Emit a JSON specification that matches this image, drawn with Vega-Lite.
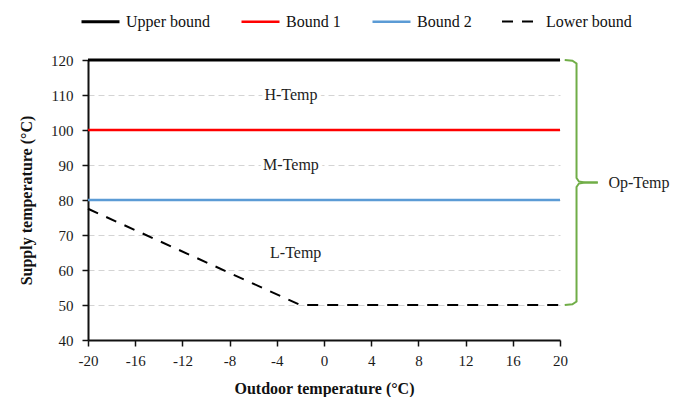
{
  "$schema": "https://vega.github.io/schema/vega-lite/v6.json",
  "autosize": {"type": "none"},
  "padding": {"left": 88, "top": 60, "right": 116, "bottom": 57},
  "width": 472,
  "height": 280,
  "background": "white",
  "config": {
    "view": {"stroke": null},
    "font": "Liberation Serif",
    "axis": {
      "labelFont": "Liberation Serif",
      "labelFontSize": 15,
      "labelColor": "#1a1a1a",
      "titleFont": "Liberation Serif",
      "titleFontSize": 16,
      "titleFontWeight": "bold",
      "titleColor": "#111",
      "domainColor": "#111",
      "domainWidth": 2,
      "tickColor": "#111",
      "tickWidth": 1.5,
      "tickSize": 6
    }
  },
  "datasets": {
    "bounds": [
      {"t_out": -20, "t_sup": 120, "series": "Upper bound"},
      {"t_out": 20, "t_sup": 120, "series": "Upper bound"},
      {"t_out": -20, "t_sup": 100, "series": "Bound 1"},
      {"t_out": 20, "t_sup": 100, "series": "Bound 1"},
      {"t_out": -20, "t_sup": 80, "series": "Bound 2"},
      {"t_out": 20, "t_sup": 80, "series": "Bound 2"},
      {"t_out": -20, "t_sup": 77.5, "series": "Lower bound"},
      {"t_out": -2, "t_sup": 50, "series": "Lower bound"},
      {"t_out": 20, "t_sup": 50, "series": "Lower bound"}
    ],
    "brace": [
      {"part": "upper", "k": 0, "t_out": 20.4, "t_sup": 120},
      {"part": "upper", "k": 1, "t_out": 21.05, "t_sup": 119.8},
      {"part": "upper", "k": 2, "t_out": 21.4, "t_sup": 119.0},
      {"part": "upper", "k": 3, "t_out": 21.4, "t_sup": 86.3},
      {"part": "upper", "k": 4, "t_out": 21.6, "t_sup": 85.3},
      {"part": "upper", "k": 5, "t_out": 22.1, "t_sup": 85},
      {"part": "upper", "k": 6, "t_out": 23.2, "t_sup": 85},
      {"part": "lower", "k": 0, "t_out": 20.4, "t_sup": 50},
      {"part": "lower", "k": 1, "t_out": 21.05, "t_sup": 50.2},
      {"part": "lower", "k": 2, "t_out": 21.4, "t_sup": 51.0},
      {"part": "lower", "k": 3, "t_out": 21.4, "t_sup": 83.7},
      {"part": "lower", "k": 4, "t_out": 21.6, "t_sup": 84.7},
      {"part": "lower", "k": 5, "t_out": 22.1, "t_sup": 85},
      {"part": "lower", "k": 6, "t_out": 23.2, "t_sup": 85}
    ],
    "zones": [
      {"zone": "H-Temp", "t_out": -2.8, "t_sup": 110},
      {"zone": "M-Temp", "t_out": -2.8, "t_sup": 90},
      {"zone": "L-Temp", "t_out": -2.4, "t_sup": 65}
    ],
    "brace_label": [
      {"txt": "Op-Temp", "t_out": 24.1, "t_sup": 85}
    ]
  },
  "encoding": {
    "x": {
      "field": "t_out",
      "type": "quantitative",
      "scale": {"domain": [-20, 20], "nice": false, "zero": false},
      "axis": {
        "values": [-20, -16, -12, -8, -4, 0, 4, 8, 12, 16, 20],
        "labelExpr": "replace(datum.label, '−', '-')",
        "title": "Outdoor temperature (°C)",
        "grid": false,
        "labelOverlap": false,
        "labelPadding": 7,
        "titlePadding": 12,
        "labelFlush": false
      }
    },
    "y": {
      "field": "t_sup",
      "type": "quantitative",
      "scale": {"domain": [40, 120], "nice": false, "zero": false},
      "axis": {
        "values": [40, 50, 60, 70, 80, 90, 100, 110, 120],
        "title": "Supply temperature (°C)",
        "grid": true,
        "gridColor": "#d4d4d4",
        "gridDash": [6, 4],
        "gridWidth": 1,
        "labelOverlap": false,
        "labelPadding": 9,
        "titlePadding": 16,
        "labelFlush": false
      }
    }
  },
  "layer": [
    {
      "data": {"name": "bounds"},
      "mark": {"type": "line", "clip": false},
      "encoding": {
        "color": {
          "field": "series",
          "type": "nominal",
          "scale": {
            "domain": ["Upper bound", "Bound 1", "Bound 2", "Lower bound"],
            "range": ["#000000", "#ff0000", "#5b9bd5", "#000000"]
          },
          "legend": {
            "orient": "none",
            "direction": "horizontal",
            "legendX": -8,
            "legendY": -59,
            "title": null,
            "symbolType": "stroke",
            "symbolSize": 1444,
            "symbolStrokeWidth": 2,
            "labelFont": "Liberation Serif",
            "labelFontSize": 16,
            "labelColor": "#111",
            "labelOffset": 5,
            "columnPadding": 26,
            "padding": 0,
            "encode": {
              "symbols": {
                "update": {
                  "strokeWidth": {"signal": "datum.value === 'Upper bound' || datum.value === 'Lower bound' ? 3.5 : 2"}
                }
              }
            }
          }
        },
        "strokeDash": {
          "field": "series",
          "type": "nominal",
          "scale": {
            "domain": ["Upper bound", "Bound 1", "Bound 2", "Lower bound"],
            "range": [[1, 0], [1, 0], [1, 0], [11, 9]]
          },
          "legend": {
            "orient": "none",
            "direction": "horizontal",
            "legendX": -8,
            "legendY": -59,
            "title": null,
            "symbolType": "stroke",
            "symbolSize": 1444,
            "labelFont": "Liberation Serif",
            "labelFontSize": 16,
            "labelOffset": 5,
            "columnPadding": 26,
            "padding": 0
          }
        },
        "strokeWidth": {
          "field": "series",
          "type": "nominal",
          "scale": {
            "domain": ["Upper bound", "Bound 1", "Bound 2", "Lower bound"],
            "range": [3, 2, 2, 3.5]
          },
          "legend": null
        }
      }
    },
    {
      "data": {"name": "brace"},
      "mark": {"type": "line", "color": "#70ad47", "strokeWidth": 2, "clip": false},
      "encoding": {
        "detail": {"field": "part"},
        "order": {"field": "k", "type": "quantitative"}
      }
    },
    {
      "data": {"name": "zones"},
      "mark": {"type": "text", "font": "Liberation Serif", "fontSize": 16, "stroke": "white", "strokeWidth": 8, "fill": "white", "align": "center", "baseline": "middle"},
      "encoding": {
        "text": {"field": "zone"}
      }
    },
    {
      "data": {"name": "zones"},
      "mark": {"type": "text", "font": "Liberation Serif", "fontSize": 16, "color": "#222", "align": "center", "baseline": "middle"},
      "encoding": {
        "text": {"field": "zone"}
      }
    },
    {
      "data": {"name": "brace_label"},
      "mark": {"type": "text", "font": "Liberation Serif", "fontSize": 16, "color": "#222", "align": "left", "baseline": "middle", "clip": false},
      "encoding": {
        "text": {"field": "txt"}
      }
    }
  ]
}
